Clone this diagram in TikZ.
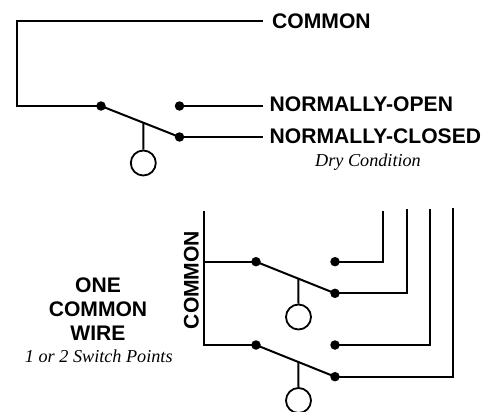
\documentclass[tikz,border=0pt]{standalone}
\usepackage{fontspec}
\setmainfont{Liberation Serif}
\newfontfamily\lab{Liberation Sans}
\usetikzlibrary{calc}
\begin{document}
\begin{tikzpicture}[x=1pt,y=-1pt,
  wire/.style={line width=2pt},
  dotn/.style={circle,fill=black,inner sep=0pt,minimum size=9.5pt},
  bulb/.style={circle,draw,line width=1.8pt,inner sep=0pt,minimum size=25pt},
  lbl/.style={font=\lab\bfseries\fontsize{21.1}{24}\selectfont,inner sep=0pt},
  note/.style={font=\itshape\fontsize{18.2}{20}\selectfont,inner sep=0pt}]
\useasboundingbox (0,0) rectangle (495,412);
% ---------- top diagram ----------
\coordinate (tEnd) at (263,21);
\coordinate (tTL) at (17,21);
\coordinate (tBL) at (17,106);
\node[dotn] (tC) at (101,106) {};
\node[dotn] (tNO) at (179.5,106) {};
\node[dotn] (tNC) at (179.5,137) {};
\coordinate (tNOe) at (263,106);
\coordinate (tNCe) at (263,137);
\draw[wire] (tEnd) -- (tTL) -- (tBL) -- (tC.center);
\draw[wire] (tC.center) -- (tNC.center);
\draw[wire] (tNO.center) -- (tNOe);
\draw[wire] (tNC.center) -- (tNCe);
\node[bulb] (tB) at (143.3,163) {};
\draw[wire] ($(tC.center)!0.539!(tNC.center)$) -- (tB.north);
\node[lbl,anchor=base west] (lC) at (272,28.5) {COMMON};
\node[lbl,anchor=base west] (lNO) at (269.5,111.7) {NORMALLY-OPEN};
\node[lbl,anchor=base west] (lNC) at (269.5,143.5) {NORMALLY-CLOSED};
\node[note,anchor=base] (dry) at (368,166.7) {Dry Condition};
% ---------- bottom diagram ----------
\coordinate (cTop) at (204.3,211);
\coordinate (cBot) at (204.3,345);
\node[dotn] (uC) at (256,261.7) {};
\node[dotn] (uNO) at (335,261.7) {};
\node[dotn] (uNC) at (335,293.3) {};
\node[dotn] (lwC) at (256,345) {};
\node[dotn] (lwNO) at (335,345) {};
\node[dotn] (lwNC) at (335,376.7) {};
\coordinate (w1) at (383.3,211);
\coordinate (w2) at (406.7,209);
\coordinate (w3) at (430,209);
\coordinate (w4) at (452.7,208);
\draw[wire] (cTop) -- (cBot) -- (lwC.center);
\draw[wire] (cTop |- uC) -- (uC.center);
\draw[wire] (uC.center) -- (uNC.center);
\draw[wire] (lwC.center) -- (lwNC.center);
\draw[wire] (uNO.center) -| (w1);
\draw[wire] (uNC.center) -| (w2);
\draw[wire] (lwNO.center) -| (w3);
\draw[wire] (lwNC.center) -| (w4);
\node[bulb] (uB) at (298.5,317) {};
\node[bulb] (lwB) at (298.5,400.5) {};
\draw[wire] ($(uC.center)!0.535!(uNC.center)$) -- (uB.north);
\draw[wire] ($(lwC.center)!0.535!(lwNC.center)$) -- (lwB.north);
\node[lbl,rotate=90,anchor=base] (vC) at (198.5,280) {COMMON};
\node[lbl,anchor=base] (one) at (98,292.7) {ONE};
\node[lbl,anchor=base] (com) at (98,316.5) {COMMON};
\node[lbl,anchor=base] (wire) at (98,340) {WIRE};
\node[note,anchor=base] (pts) at (98.8,362.7) {1 or 2 Switch Points};
\end{tikzpicture}
\end{document}
